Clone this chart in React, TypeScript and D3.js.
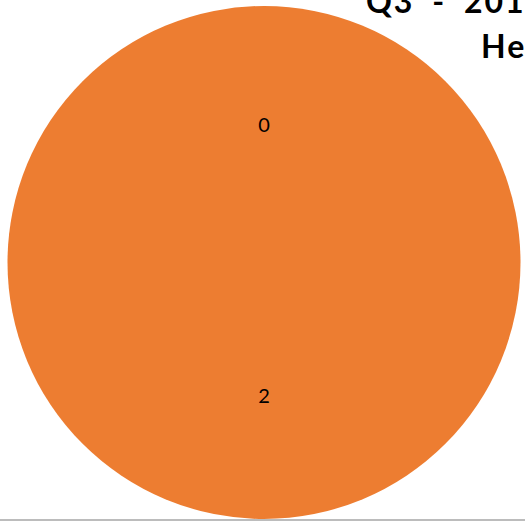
import React from "react";
import * as d3 from "d3";

const categories = ["Category A", "Category B"];
const values = [0, 2];
const colors = ["#4472C4", "#ED7D31"];
const titleLines = ["Q3 - 2019", "Help Desk Tickets"];

const W = 525;
const H = 522;
const cx = 264;
const cy = 262.5;
const R = 256.5;

export default function App() {
  const data = categories.map((c, i) => ({ category: c, value: values[i] }));
  const pie = d3.pie<{ category: string; value: number }>().sort(null).value((d) => d.value);
  const arcs = pie(data);
  const arc = d3.arc<d3.PieArcDatum<{ category: string; value: number }>>().innerRadius(0).outerRadius(R);
  const labelArc = d3
    .arc<d3.PieArcDatum<{ category: string; value: number }>>()
    .innerRadius(R * 0.53)
    .outerRadius(R * 0.53);

  return (
    <svg
      width={W}
      height={H}
      style={{ position: "absolute", left: 0, top: 0, background: "#fff" }}
      fontFamily="Lato, 'Open Sans', sans-serif"
    >
      <g transform={`translate(${cx},${cy})`}>
        {arcs.map((a, i) => (
          <path key={i} d={arc(a) || ""} fill={colors[i]} />
        ))}
        {arcs.map((a, i) => {
          const [x, y] = labelArc.centroid(a);
          return (
            <text key={"l" + i} x={x} y={y - 3} textAnchor="middle" dominantBaseline="central" fontSize={20} fill="#000">
              {a.data.value}
            </text>
          );
        })}
      </g>
      <text x={366} y={13} fontSize={32} fontWeight="bold" letterSpacing={2} wordSpacing={8} fill="#000">
        {titleLines[0]}
      </text>
      <text x={481} y={58} fontSize={32} fontWeight="bold" letterSpacing={2} fill="#000">
        {titleLines[1]}
      </text>
      <line x1={0} x2={W} y1={520} y2={520} stroke="#a6a6a6" strokeWidth={1.5} />
    </svg>
  );
}
